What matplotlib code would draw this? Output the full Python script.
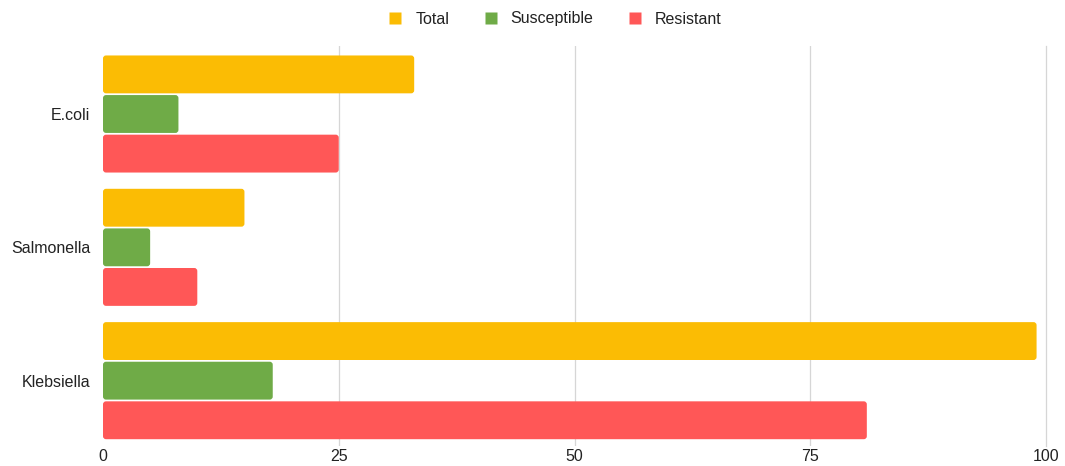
import matplotlib.pyplot as plt
import matplotlib.patches as patches
from matplotlib.lines import Line2D

plt.rcParams['font.family'] = ['Liberation Sans', 'DejaVu Sans']

# bacteria groups and isolate counts
organisms = ["E.coli", "Salmonella", "Klebsiella"]
total = [33, 15, 99]
susceptible = [8, 5, 18]
resistant = [25, 10, 81]

series = [("Total", total, "#fbbc04"),
          ("Susceptible", susceptible, "#6fab47"),
          ("Resistant", resistant, "#ff5757")]

fig = plt.figure(figsize=(10.65, 4.66), dpi=100)
ax = fig.add_axes([103 / 1065, 20 / 466, 943 / 1065, 400 / 466])

slot = 0.297
bar_h = 0.284
for i, (name, vals, col) in enumerate(series):
    for j, v in enumerate(vals):
        yc = j + (i - 1) * slot
        # rounded bar, corner radius about 3px
        p = patches.FancyBboxPatch((0, yc - bar_h / 2), v, bar_h,
                                   boxstyle="round,pad=0,rounding_size=0.32",
                                   mutation_aspect=9.43 / 133,
                                   facecolor=col, edgecolor="none", zorder=3)
        ax.add_patch(p)

ax.set_xlim(0, 100)
ax.set_ylim(2.49, -0.51)
ax.set_xticks([0, 25, 50, 75, 100])
ax.set_yticks(range(len(organisms)))
ax.set_yticklabels(organisms)
ax.tick_params(length=0, labelsize=11.5, colors="#222222")
ax.tick_params(axis="x", pad=2)
ax.tick_params(axis="y", pad=9)
ax.grid(axis="x", color="#d6d6d6", linewidth=0.9, zorder=0)
gl = ax.get_xgridlines()
gl[0].set_visible(False)   # no grid line along the zero edge
gl[-1].set_clip_on(False)  # keep the 100 line full width
for s in ax.spines.values():
    s.set_visible(False)

handles = [Line2D([], [], marker="s", linestyle="none", markersize=8,
                  markerfacecolor=c, markeredgecolor="none") for _, _, c in series]
fig.legend(handles, [n for n, _, _ in series], loc="center",
           bbox_to_anchor=(556 / 1065, 1 - 19 / 466), ncol=3, frameon=False,
           fontsize=11.5, handlelength=0.6, handletextpad=0.95,
           columnspacing=2.3, labelcolor="#222222")

fig.savefig("out.png", dpi=100)
